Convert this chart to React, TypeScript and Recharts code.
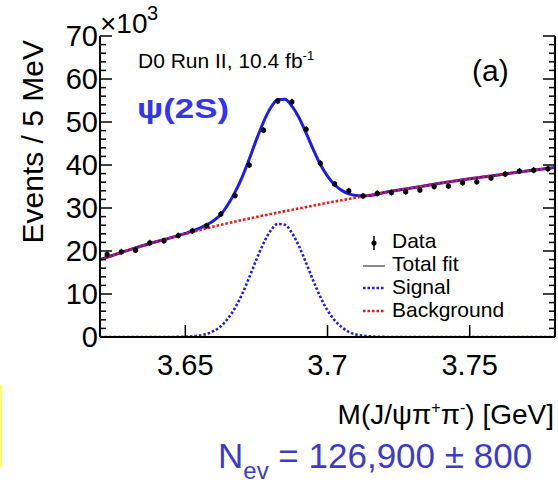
import React from "react";
import { ComposedChart, Line, Scatter, XAxis, YAxis } from "recharts";

// Data: events per 5 MeV bin (x10^3)
const massBins = [
  3.6225, 3.6275, 3.6325, 3.6375, 3.6425, 3.6475, 3.6525, 3.6575, 3.6625, 3.6675,
  3.6725, 3.6775, 3.6825, 3.6875, 3.6925, 3.6975, 3.7025, 3.7075, 3.7125, 3.7175,
  3.7225, 3.7275, 3.7325, 3.7375, 3.7425, 3.7475, 3.7525, 3.7575, 3.7625, 3.7675,
  3.7725, 3.7775,
];
const eventCounts = [
  19.2, 19.8, 20.2, 21.9, 22.4, 23.6, 24.7, 25.9, 28.6, 32.9,
  40.0, 48.1, 54.9, 54.7, 48.3, 40.4, 35.6, 34.0, 32.8, 33.4,
  33.6, 33.8, 34.2, 35.0, 35.1, 35.9, 36.1, 37.0, 37.9, 38.6,
  38.8, 39.1,
];

// Background fit curve
const bgMass = [3.62, 3.63, 3.64, 3.65, 3.66, 3.67, 3.68, 3.69, 3.7, 3.71, 3.72, 3.73, 3.74, 3.75, 3.76, 3.77, 3.78];
const bgValues = [18.0, 20.2, 22.2, 24.0, 25.7, 27.2, 28.6, 29.9, 31.2, 32.4, 33.6, 34.7, 35.8, 36.8, 37.7, 38.6, 39.4];

// Signal fit curve
const sigMass = [
  3.62, 3.64, 3.645, 3.65, 3.655, 3.66, 3.6625, 3.665, 3.6675, 3.67, 3.6725, 3.675, 3.6775,
  3.68, 3.6825, 3.685, 3.6875, 3.69, 3.6925, 3.695, 3.6975, 3.7, 3.7025, 3.705, 3.7075,
  3.71, 3.715, 3.72, 3.73, 3.78,
];
const sigValues = [
  0, 0, 0.01, 0.07, 0.35, 1.4, 2.5, 4.3, 6.8, 10.0, 13.9, 18.0, 21.8,
  24.7, 26.3, 26.1, 24.2, 21.1, 17.2, 13.1, 9.3, 6.2, 3.9, 2.3, 1.2,
  0.6, 0.14, 0.02, 0, 0,
];

// Total fit curve
const totMass = [
  3.62, 3.63, 3.64, 3.645, 3.65, 3.655, 3.66, 3.6625, 3.665, 3.6675, 3.67, 3.6725, 3.675,
  3.6775, 3.68, 3.6825, 3.685, 3.6875, 3.69, 3.6925, 3.695, 3.6975, 3.7, 3.7025, 3.705,
  3.7075, 3.71, 3.7125, 3.715, 3.72, 3.73, 3.74, 3.75, 3.76, 3.77, 3.78,
];
const totValues = [
  18.0, 20.2, 22.2, 23.1, 24.1, 25.3, 27.1, 28.5, 30.8, 33.7, 37.2, 41.4, 45.9,
  50.0, 53.3, 55.2, 55.3, 53.7, 51.0, 47.4, 43.6, 40.1, 37.4, 35.4, 34.1,
  33.3, 32.9, 32.8, 32.9, 33.6, 34.7, 35.8, 36.8, 37.7, 38.6, 39.4,
];

const yTicks = [0, 2, 4, 6, 8, 10, 12, 14, 16, 18, 20, 22, 24, 26, 28, 30, 32, 34, 36, 38, 40, 42, 44, 46, 48, 50, 52, 54, 56, 58, 60, 62, 64, 66, 68, 70];
const xTicks = [3.65, 3.7, 3.75];

const zip = (xs: number[], ys: number[]) => xs.map((m, i) => ({ m, v: ys[i] }));
const dataPts = zip(massBins, eventCounts);
const bgPts = zip(bgMass, bgValues);
const sigPts = zip(sigMass, sigValues);
const totPts = zip(totMass, totValues);

const FONT = '"Liberation Sans", Arial, Helvetica, sans-serif';

const YTickLeft = (props: any) => {
  const { x, y, payload } = props;
  const v = payload.value;
  const major = v % 10 === 0;
  return (
    <g>
      <line x1={x} x2={x + (major ? 12 : 6)} y1={y} y2={y} stroke="#000" strokeWidth={1.5} />
      {major && (
        <text x={x - 2} y={y} dy="0.36em" textAnchor="end" fontSize={29} fontFamily={FONT} fill="#000">
          {v}
        </text>
      )}
    </g>
  );
};

const YTickRight = (props: any) => {
  const { x, y, payload } = props;
  const major = payload.value % 10 === 0;
  return <line x1={x} x2={x - (major ? 12 : 6)} y1={y} y2={y} stroke="#000" strokeWidth={1.5} />;
};

const XTickBottom = (props: any) => {
  const { x, y, payload } = props;
  return (
    <g>
      <line x1={x} x2={x} y1={y} y2={y - 12} stroke="#000" strokeWidth={1.5} />
      <text x={x} y={y + 38} textAnchor="middle" fontSize={29} fontFamily={FONT} fill="#000">
        {String(payload.value)}
      </text>
    </g>
  );
};

const XTickTop = (props: any) => {
  const { x, y } = props;
  return <line x1={x} x2={x} y1={y} y2={y + 10} stroke="#000" strokeWidth={1.5} />;
};

const DataDot = (props: any) => {
  const { cx, cy } = props;
  return (
    <g>
      <line x1={cx} x2={cx} y1={cy - 3} y2={cy + 3} stroke="#000" strokeWidth={1.2} />
      <circle cx={cx} cy={cy} r={2.6} fill="#000" />
    </g>
  );
};

export default function App() {
  return (
    <div style={{ position: "absolute", left: 0, top: 0, width: 558, height: 483, background: "#fff" }}>
      <ComposedChart width={558} height={483} margin={{ top: 36, right: 0, bottom: 0, left: 0 }}>
        <XAxis
          xAxisId="b"
          dataKey="m"
          type="number"
          domain={[3.62, 3.78]}
          allowDataOverflow
          ticks={xTicks}
          interval={0}
          height={146}
          tickSize={0}
          tickMargin={0}
          tickLine={false}
          tick={<XTickBottom />}
          axisLine={{ stroke: "#000", strokeWidth: 2 }}
        />
        <XAxis
          xAxisId="t"
          dataKey="m"
          orientation="top"
          type="number"
          domain={[3.62, 3.78]}
          allowDataOverflow
          ticks={xTicks}
          interval={0}
          height={0}
          tickSize={0}
          tickMargin={0}
          tickLine={false}
          tick={<XTickTop />}
          axisLine={{ stroke: "#000", strokeWidth: 2 }}
        />
        <YAxis
          yAxisId="l"
          dataKey="v"
          type="number"
          domain={[0, 70]}
          allowDataOverflow
          ticks={yTicks}
          interval={0}
          width={100}
          tickSize={0}
          tickMargin={0}
          tickLine={false}
          tick={<YTickLeft />}
          axisLine={{ stroke: "#000", strokeWidth: 2 }}
        />
        <YAxis
          yAxisId="r"
          dataKey="v"
          orientation="right"
          type="number"
          domain={[0, 70]}
          allowDataOverflow
          ticks={yTicks}
          interval={0}
          width={3}
          tickSize={0}
          tickMargin={0}
          tickLine={false}
          tick={<YTickRight />}
          axisLine={{ stroke: "#000", strokeWidth: 2 }}
        />
        <Line
          xAxisId="b"
          yAxisId="l"
          data={totPts}
          dataKey="v"
          type="monotone"
          stroke="#1c1cf0"
          strokeWidth={3}
          dot={false}
          isAnimationActive={false}
        />
        <Line
          xAxisId="b"
          yAxisId="l"
          data={sigPts}
          dataKey="v"
          type="monotone"
          stroke="#1c1cf0"
          strokeWidth={2.6}
          strokeDasharray="2.5 2"
          dot={false}
          isAnimationActive={false}
        />
        <Line
          xAxisId="b"
          yAxisId="l"
          data={bgPts}
          dataKey="v"
          type="monotone"
          stroke="#ff1010"
          strokeWidth={2.6}
          strokeDasharray="2.5 2"
          dot={false}
          isAnimationActive={false}
        />
        <Scatter
          xAxisId="b"
          yAxisId="l"
          data={dataPts}
          dataKey="v"
          fill="#000"
          shape={<DataDot />}
          isAnimationActive={false}
        />
      </ComposedChart>
      <svg
        width={558}
        height={483}
        style={{ position: "absolute", left: 0, top: 0, pointerEvents: "none" }}
        fontFamily={FONT}
      >
        <text transform="translate(43,40) rotate(-90)" textAnchor="end" fontSize={30} fill="#000">
          Events / 5 MeV
        </text>
        <text x={100} y={33} fontSize={28} fill="#000">×10</text>
        <text x={147} y={20} fontSize={20} fill="#000">3</text>
        <text x={138} y={68} fontSize={21} fill="#000">
          D0 Run II, 10.4 fb<tspan fontSize={13} dy={-8}>-1</tspan>
        </text>
        <text x={472} y={81} fontSize={30} fill="#000">(a)</text>
        <text x={137} y={118} fontSize={27} fontWeight="bold" fill="#3434f4" textLength={92} lengthAdjust="spacingAndGlyphs">
          ψ(2S)
        </text>

        {/* legend */}
        <line x1={374} x2={374} y1={236} y2={250} stroke="#000" strokeWidth={1.5} />
        <circle cx={374} cy={243} r={2.6} fill="#000" />
        <text x={392} y={248} fontSize={21} fill="#000">Data</text>
        <line x1={363} x2={385} y1={266} y2={266} stroke="#666" strokeWidth={1.5} />
        <text x={392} y={271} fontSize={21} fill="#000">Total fit</text>
        <line x1={363} x2={385} y1={288} y2={288} stroke="#1c1cf0" strokeWidth={2.6} strokeDasharray="2.5 2" />
        <text x={392} y={294} fontSize={21} fill="#000">Signal</text>
        <line x1={363} x2={385} y1={311} y2={311} stroke="#ff1010" strokeWidth={2.6} strokeDasharray="2.5 2" />
        <text x={392} y={317} fontSize={21} fill="#000">Background</text>

        <text x={554} y={424} textAnchor="end" fontSize={28} fill="#000">
          M(J/ψπ<tspan fontSize={16} dy={-11}>+</tspan>
          <tspan dy={11}>π</tspan>
          <tspan fontSize={16} dy={-11}>-</tspan>
          <tspan dy={11}>) [GeV]</tspan>
        </text>
        <text x={218} y={468} fontSize={35} fill="#3c3cc8">
          N<tspan fontSize={24} dy={11}>ev</tspan>
          <tspan dy={-11}> = 126,900 ± 800</tspan>
        </text>
        <rect x={0} y={385} width={2} height={82} fill="#ffff70" />
      </svg>
    </div>
  );
}
